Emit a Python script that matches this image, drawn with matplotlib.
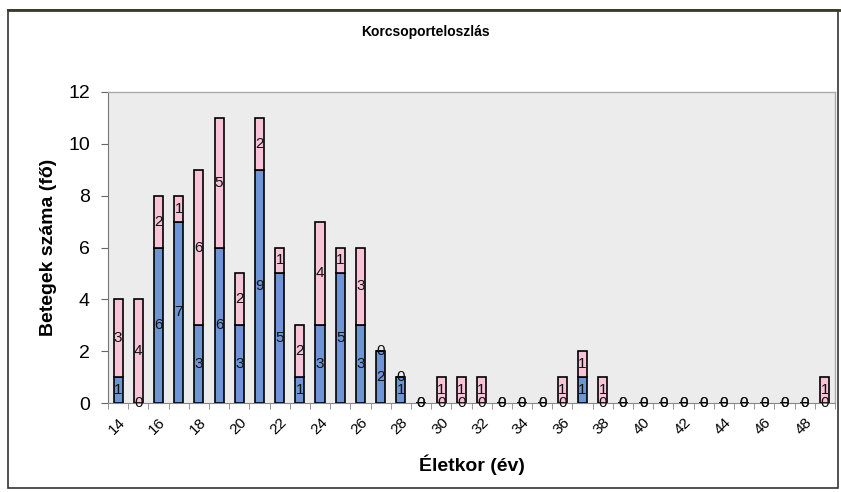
import matplotlib
matplotlib.use("Agg")
import matplotlib.pyplot as plt
from matplotlib.patches import Rectangle
import matplotlib.transforms as mtransforms
import numpy as np

plt.rcParams['font.family'] = ['Liberation Sans', 'DejaVu Sans']

ages = list(range(14, 50))
blue = [1, 0, 6, 7, 3, 6, 3, 9, 5, 1, 3, 5, 3, 2, 1, 0, 0, 0, 0, 0, 0, 0, 0, 1, 0,
        0, 0, 0, 0, 0, 0, 0, 0, 0, 0, 0]
pink = [3, 4, 2, 1, 6, 5, 2, 2, 1, 2, 4, 1, 3, 0, 0, 0, 1, 1, 1, 0, 0, 0, 1, 1, 1,
        0, 0, 0, 0, 0, 0, 0, 0, 0, 0, 1]
tick_labels = [str(a) for a in range(14, 50, 2)]
yticks = [0, 2, 4, 6, 8, 10, 12]

W, H = 841, 492
fig = plt.figure(figsize=(W / 100, H / 100), dpi=100)
fig.patch.set_facecolor('white')

# outer chart frame
fig.patches.append(Rectangle((8 / W, 1 - 488 / H), (838 - 8) / W, (488 - 10) / H,
                             transform=fig.transFigure, fill=False,
                             edgecolor='#333333', linewidth=1.2))
fig.lines.append(plt.Line2D([8 / W, 1.0], [1 - 10 / H, 1 - 10 / H],
                            transform=fig.transFigure, color='#3a3a2a', linewidth=2))

ax = fig.add_axes([108 / W, 1 - 403 / H, (835 - 108) / W, (403 - 92) / H])
ax.set_facecolor('#ececec')

x = np.arange(len(ages))
bw = 0.45
ax.bar(x, blue, width=bw, color='#6f95d6', edgecolor='black', linewidth=1.2, zorder=3)
ax.bar(x, pink, width=bw, bottom=blue, color='#f6c3d7', edgecolor='black',
       linewidth=1.2, zorder=3)

for i in range(len(ages)):
    ax.text(x[i], blue[i] / 2, str(blue[i]), ha='center', va='center',
            fontsize=11, color='#111111', zorder=5)
    ax.text(x[i], blue[i] + pink[i] / 2, str(pink[i]), ha='center', va='center',
            fontsize=11, color='#111111', zorder=5)

ax.set_xlim(-0.5, len(ages) - 0.5)
ax.set_ylim(0, 12)
ax.set_yticks(yticks)
ax.set_yticklabels([str(v) for v in yticks], fontsize=14)

major_pos = [ages.index(int(t)) for t in tick_labels]
ax.set_xticks(major_pos)
ax.set_xticklabels(tick_labels, rotation=45, ha='right', rotation_mode='anchor', fontsize=11)
offset = mtransforms.ScaledTranslation(-6 / 100, 0, fig.dpi_scale_trans)
for lab in ax.get_xticklabels():
    lab.set_transform(lab.get_transform() + offset)
ax.set_xticks(np.arange(-0.5, len(ages), 1), minor=True)
ax.tick_params(axis='x', which='major', length=0, pad=9)
ax.tick_params(axis='x', which='minor', length=4, direction='out', color='#888888')
ax.tick_params(axis='y', which='major', length=5, direction='out', color='#666666', pad=8)

for s in ['top', 'right']:
    ax.spines[s].set_color('#aaaaaa')
    ax.spines[s].set_linewidth(1)
ax.spines['left'].set_color('#777777')
ax.spines['bottom'].set_color('#888888')

ax.set_ylabel('Betegek száma (fő)', fontsize=14, fontweight='bold', labelpad=8)
ax.set_xlabel('Életkor (év)', fontsize=14, fontweight='bold', labelpad=12)
fig.text(425 / W, 1 - 32 / H, 'Korcsoporteloszlás', ha='center', va='center',
         fontsize=10, fontweight='bold')

fig.savefig('out.png', dpi=100)
